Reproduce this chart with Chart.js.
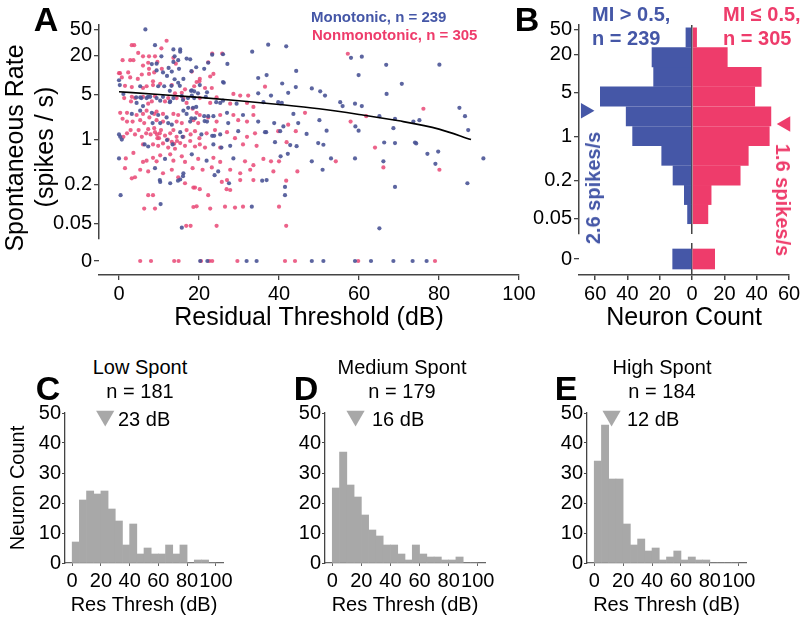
<!DOCTYPE html>
<html>
<head>
<meta charset="utf-8">
<script src="https://cdn.jsdelivr.net/npm/chart.js@4.4.1/dist/chart.umd.min.js"></script>
<style>
  body{margin:0;background:#fff;}
  #fig{position:relative;width:800px;height:618px;overflow:hidden;font-family:"Liberation Sans",Arial,Helvetica,sans-serif;}
  #fig canvas{position:absolute;}
  .t{position:absolute;white-space:nowrap;line-height:1;}
</style>
</head>
<body>
<div id="fig"></div>
<script>
/* ===== data ===== */
// panel A: [residual threshold (dB), spontaneous rate (spikes/s)], rate 0 = no spont activity
const MONO_PTS = [
  [37.3,29.6],[41.8,27.9],[58,18.5],[60.7,19.3],[66.8,14.4],[80.1,14.5],[44.3,11.6],[70.7,7.3],[59.9,10],[40.8,7.4],
  [44.2,6.5],[48.2,6.2],[50.3,5.6],[51.5,4.8],[42.3,5.3],[38,4.8],[66.9,5.1],[55.3,3.8],[55.9,3.3],[59,3.6],
  [60.7,3.3],[39.8,3.8],[40.7,3.7],[85.1,3.1],[86.5,2.3],[87.3,1.4],[43.6,2.5],[50.1,2.0],[69,2.1],[73.6,1.9],
  [75.1,2.0],[38.8,1.8],[41.1,1.6],[44.8,1.8],[36.8,1.3],[40.3,1.35],[46.9,1.22],[51.9,1.37],[59.1,1.6],[59.9,1.37],
  [68.6,1.5],[39,0.91],[42.8,0.82],[44.4,0.79],[49.8,0.88],[51.1,0.83],[66.3,0.9],[69,0.88],[74,0.9],[74.3,0.87],
  [77.1,0.6],[79.8,0.65],[42.2,0.6],[40.4,0.55],[48.2,0.46],[53,0.51],[59,0.51],[66.1,0.46],[79.1,0.42],[91.1,0.51],
  [50.9,0.34],[35.8,0.23],[41.5,0.184],[41.5,0.137],[69,0.184],[87.1,0.21],[65.1,0.042],[65.1,2.3],
  [6.6,51],[9,29],[13.6,25],[15.3,25],[15.3,23],[33.3,23],[8.2,14.8],[9.4,15],[13.6,16],[14.8,17],
  [16.9,18],[17.8,17.5],[22.3,15.5],[9.4,11.8],[11,11],[12,9.7],[13.2,11.3],[15,12.5],[16.1,8.7],[21.3,12.5],
  [26,7.8],[34.8,9],[36.9,10],[0,8.3],[5.3,6.7],[9.8,6.7],[11.3,6.7],[18.2,5.8],[20.2,7],[34.8,5.2],
  [1.1,5.1],[4.4,3.7],[5.3,4.5],[6,3.3],[6.9,4.4],[7.8,4.6],[9.4,4.4],[10.3,4],[11,4.6],[12.8,3.9],
  [13.6,4.4],[15.7,4.7],[18.2,4.8],[18.8,4.4],[21.7,4.6],[25.3,3.7],[29.4,3.6],[36.1,3.8],[3.2,2.5],[5.3,2.8],
  [8.2,2.6],[9.8,2.4],[11.9,2.2],[16.1,2.8],[16.9,2.5],[21.3,2.3],[23.6,2.3],[27,2.6],[31,2.4],[34.8,1.9],
  [8.4,1.8],[10.3,1.8],[12.3,1.8],[13.2,1.7],[17.8,1.9],[22,1.9],[27.3,1.8],[0,1.2],[0.3,1.1],[0.7,1.0],
  [12,0.98],[15.3,1.3],[20.6,1.2],[25.3,1.2],[29.8,1.35],[36.5,1.3],[7.3,0.78],[13.4,0.84],[23.6,0.84],[27.8,0.8],
  [0,0.51],[11.5,0.5],[18.2,0.59],[21.9,0.47],[28.6,0.51],[9,0.36],[16.1,0.3],[24.8,0.32],[36.9,0.235],[0.4,0.137],
  [10.4,0.1],[10.3,0.22],[12.8,0.21],[15.3,0.24],[27.5,0.21],[33.2,0.091],[15.7,0.043],
  [10.6,19.5],[13.9,19.5],[23.3,20.7],[26,21],[27.1,14.9],[19.3,13.2],[18.1,11.5],[12.4,12.9],[13.9,8.6],[14.8,7.6],
  [15.2,6.8],[13.1,6.8],[12.7,5.7],[0.2,7],[18,5.7],[18.8,5.6],[22,5.4],[26.2,7.6],[4.3,4.5],[5.6,4.4],
  [7.25,4.6],[12.7,3.8],[16,4.1],[17.25,4.4],[19.75,5.2],[24.3,3.8],[26,4.0],[17.3,3.1],[18.5,3.1],[19.3,3.2],
  [21.4,1.93],[22.3,2.3],[18.1,2.14],[19,2.14],[23.3,1.14],[23.8,1.14],[25.6,0.75],[15.9,1.1],[6.4,0.84],[10.2,0.235],
  [14.75,0.23],[16,0.27],[23.9,0.28],
  [48.2,0],[51.1,0],[59,0],[63,0],[68.6,0],[73.4,0],[76.9,0],[20.3,0],[31.9,0],[34.4,0],[22.1,0]
];
const NONMONO_PTS = [
  [57.2,21.4],[36.5,6.6],[76.1,3.0],[46.5,2.6],[61.8,2.3],[57.9,1.9],[42.3,1.7],[39.8,1.35],[44.2,1.35],[41.9,0.91],
  [64,0.75],[38,0.46],[40,0.46],[54.2,0.46],[66.1,0.37],[80.1,0.34],[44.6,0.32],[38.6,0.32],[41.8,0.23],[40,0.091],
  [41.8,0.046],
  [3.2,29],[3.8,29],[11.9,34],[10.6,26],[23.3,21.5],[25.8,21.5],[0.9,17],[2.8,17],[3.6,17],[4.8,22],
  [6,19.5],[7.5,19.5],[9,19.5],[9.6,16],[6,14],[7.3,15.5],[13.6,18.5],[22.3,15.8],[2.3,11],[0.25,10.7],
  [0,10.7],[0.7,9.2],[2.8,9.2],[4.7,8.7],[5.7,10.2],[7.5,12.5],[7.5,10.4],[8.8,11],[10.7,12.5],[14.2,15],
  [18.2,11.3],[20.2,8.7],[22.8,9.5],[23.6,10.4],[1.5,6.8],[3.2,6.5],[6,6.3],[6.9,6.7],[8.5,7],[8.5,8],
  [10.3,7.3],[13.2,7],[14,5.2],[15.7,5.3],[16.5,6],[18.8,6.7],[19.4,7.8],[20.1,8],[21.5,6.3],[23.2,6.3],
  [24.4,4.5],[28.6,5.1],[30.3,4.8],[32.3,4.8],[1.3,4.4],[3.2,4.6],[3,3.9],[4,4.4],[6,4.6],[7.3,3.6],
  [8.2,3.9],[9,4.7],[11.5,3.9],[12.3,4.4],[14.4,4.4],[16.1,4.3],[16.9,3.7],[20.2,4.4],[22.8,3.7],[27.8,3.6],
  [32,3.7],[33.6,3.2],[0.3,2.6],[2,2.6],[4.4,2.4],[6,2.5],[6.9,2.8],[8.8,2.5],[9.4,2.7],[11,2.5],
  [13.6,2.5],[14.8,2.4],[18.4,3],[19.4,2.6],[20.2,2.4],[22.3,2.2],[25.3,2.4],[28.6,2.4],[33.6,2.4],[0.9,2.1],
  [2,1.9],[3.4,1.9],[5.3,2],[6.3,1.8],[7.6,2.2],[9.4,2],[11,1.9],[14.4,1.9],[15.7,1.8],[18.6,2],
  [19.8,1.8],[24.4,1.9],[29.8,2],[32,1.9],[1.1,1.1],[2,1.25],[2.9,1.4],[4,1.2],[4.9,1.4],[5.7,1.1],
  [6.8,1.25],[7.3,1.45],[7.9,1.2],[9,1.3],[9.6,1.05],[10.5,1.4],[11.5,1.15],[12.8,1.25],[13.6,1.4],[14.4,1.1],
  [16.1,1.1],[16.9,1.4],[17.9,1.2],[19,1.35],[20.1,1.05],[21.9,1.25],[24,1.4],[27,1.3],[29,1.05],[32,1.1],
  [34,1.25],[6,0.84],[8.5,0.84],[9.8,0.8],[11,0.87],[12.3,0.75],[14,0.72],[15.3,0.88],[16.5,0.8],[17.8,0.95],
  [19,0.78],[20.2,0.84],[21.5,0.75],[25.3,0.75],[31,0.84],[34.4,0.8],[1.7,0.51],[3.6,0.62],[6,0.45],[6.9,0.47],
  [8.5,0.52],[9.4,0.46],[10.3,0.57],[12.8,0.59],[13.6,0.47],[15.7,0.55],[16.5,0.45],[19.8,0.5],[23.6,0.52],[25.3,0.45],
  [31.5,0.46],[33.6,0.4],[36.1,0.5],[1.5,0.36],[3.2,0.25],[4,0.26],[5.3,0.34],[7.3,0.32],[11,0.3],[13.2,0.34],
  [14.8,0.26],[18.4,0.36],[20.9,0.34],[23.2,0.37],[27.8,0.34],[30.3,0.3],[32.8,0.34],[7.3,0.137],[8.5,0.137],[6.3,0.085],
  [9,0.085],[18.6,0.18],[19,0.18],[16.5,0.21],[20.2,0.17],[22.3,0.137],[25.7,0.22],[27,0.235],[26.9,0.17],[27.8,0.165],
  [30.3,0.235],[33.6,0.235],[18.6,0.09],[19.4,0.092],[22.8,0.085],[26.5,0.091],[29,0.088],[31,0.091],[16.8,0.046],[17.9,0.046],
  [24.4,0.046],[9.5,1.2],[10,1.05],[10.2,1.25],[13.2,0.92],[13.8,0.86],[14.5,0.95],[8.8,1.5],[12.2,1.0],
  [5.3,0],[8,0],[13.8,0],[14.9,0],[20.5,0],[22.6,0],[23.3,0],[29.6,0],[41.5,0],[44,0],[59.8,0],[79,0]
];
// regression line, read at a few thresholds
const FIT_DB   = [0, 10, 20, 30, 40, 50, 60, 70, 80, 88];
const FIT_RATE = [5.5, 5.0, 4.5, 4.0, 3.5, 3.0, 2.45, 1.95, 1.45, 1.0];

// panel B: spont-rate bins (edges, low -> high) and neuron counts
const SR_BIN_EDGES  = [0.042, 0.084, 0.17, 0.35, 0.72, 1.47, 3.04, 6.28, 12.8, 26.4, 54.3];
const MONO_HIST     = [3, 5, 12, 19, 37, 41, 57, 24, 25, 4];
const NONMONO_HIST  = [10, 12, 30, 35, 48, 49, 39, 43, 22, 3];
const MONO_ZERO     = 12;
const NONMONO_ZERO  = 14;
const MONO_MEDIAN   = 2.6;
const NONMONO_MEDIAN = 1.6;

// panels C-E: residual threshold histograms, 5 dB bins
const RT_BIN_EDGES = [0,5,10,15,20,25,30,35,40,45,50,55,60,65,70,75,80,85,90,95,100];
const LOW_HIST  = [7,21,24,23,24,18,14,6,13,3,5,3,3,6,3,6,0,1,1,0];
const MED_HIST  = [25,37,26,22,16,11,9,6,6,3,1,6,3,2,2,1,1,2,0,0];
const HIGH_HIST = [34,46,28,28,13,6,8,4,5,1,2,4,1,2,1,1,0,0,0,0];
const RT_MEDIANS = [23, 16, 12];

// tick labels
const SR_TICKS    = [50, 20, 5, 1, 0.2, 0.05];
const DB_TICKS    = [0, 20, 40, 60, 80, 100];
const COUNT_TICKS = [-60, -40, -20, 0, 20, 40, 60];
const HIST_TICKS  = [0, 10, 20, 30, 40, 50];

/* ===== styles ===== */
const BLUE = '#4557a7', PINK = '#ee3c6b', GRAY = '#a8a8a8', AX = '#444';
const BLUE_DOT = 'rgba(74,84,150,0.9)', PINK_DOT = 'rgba(233,72,118,0.85)';
const SR_MIN = 0.0287, SR_MAX = 59.7;     // log axis extent above the break
const MONO_MARK_X = -66, NONMONO_MARK_X = 58, MEDIAN_MARK_Y = 49;

Chart.defaults.font.family = '"Liberation Sans", Arial, Helvetica, sans-serif';
Chart.defaults.color = '#000';
Chart.defaults.animation = false;
Chart.defaults.responsive = false;
Chart.defaults.plugins.legend.display = false;
Chart.defaults.plugins.tooltip.enabled = false;

const fig = document.getElementById('fig');
function mkCanvas(left, top, w, h){
  const c = document.createElement('canvas');
  c.width = w; c.height = h;
  c.style.left = left+'px'; c.style.top = top+'px';
  c.style.width = w+'px'; c.style.height = h+'px';
  fig.appendChild(c); return c;
}
function text(txt, cx, cy, size, o={}){
  const d = document.createElement('div'); d.className = 't'; d.textContent = txt;
  d.style.fontSize = size+'px'; d.style.color = o.color || '#000';
  if(o.bold) d.style.fontWeight = 'bold';
  d.style.left = cx+'px'; d.style.top = cy+'px';
  let tr = o.left ? 'translate(0,-50%)' : 'translate(-50%,-50%)';
  if(o.rot) tr += ' rotate('+o.rot+'deg)';
  d.style.transform = tr;
  fig.appendChild(d);
}
// fixed axis box, no label overflow padding -> chart areas land where the figure has them
const noPad = s => { s.paddingLeft = s.paddingRight = s.paddingTop = s.paddingBottom = 0; };
const fixW = n => s => { s.width = n; noPad(s); };
const fixH = n => s => { s.height = n; noPad(s); };
const setTicks = arr => s => { s.ticks = arr.map(v => ({value: v})); };
const sum = a => a.reduce((p, q) => p + q, 0);
const xy = p => ({x: p[0], y: p[1]});

/* ===== A: scatter, log axis + zero strip ===== */
new Chart(mkCanvas(0, 0, 530, 243), {
  type: 'scatter',
  data: {datasets: [
    {type:'line', data: FIT_DB.map((x,i)=>({x, y: FIT_RATE[i]})), borderColor:'#000', borderWidth:1.6,
     pointRadius:0, fill:false, cubicInterpolationMode:'monotone'},
    {data: MONO_PTS.filter(p=>p[1]>0).map(xy), backgroundColor: BLUE_DOT, pointRadius:2.1, borderWidth:0},
    {data: NONMONO_PTS.filter(p=>p[1]>0).map(xy), backgroundColor: PINK_DOT, pointRadius:2.1, borderWidth:0}
  ]},
  options: {
    layout: {padding: {top:25, right:11, left:0, bottom:0}},
    scales: {
      x: {type:'linear', display:false, min:-5, max:100, offset:false},
      y: {type:'logarithmic', min:SR_MIN, max:SR_MAX, offset:false, afterFit: fixW(99), afterBuildTicks: setTicks(SR_TICKS),
          ticks: {callback: v => String(v), font:{size:20}, padding:2, autoSkip:false},
          grid: {drawOnChartArea:false, color:AX, tickLength:5, lineWidth:1.3},
          border: {color:AX, width:1.5}}
    }
  }
});
new Chart(mkCanvas(0, 243, 545, 90), {
  type: 'scatter',
  data: {datasets: [
    {data: MONO_PTS.filter(p=>p[1]===0).map(xy), backgroundColor: BLUE_DOT, pointRadius:2.1, borderWidth:0},
    {data: NONMONO_PTS.filter(p=>p[1]===0).map(xy), backgroundColor: PINK_DOT, pointRadius:2.1, borderWidth:0}
  ]},
  options: {
    layout: {padding: {top:0, right:26, left:0, bottom:0}},
    scales: {
      x: {type:'linear', min:-5, max:100, offset:false, afterFit: fixH(58), afterBuildTicks: setTicks(DB_TICKS),
          ticks: {font:{size:20}, padding:2, maxRotation:0, autoSkip:false},
          grid: {drawOnChartArea:false, color:AX, tickLength:5, lineWidth:1.3},
          border: {color:AX, width:1.5},
          title: {display:true, text:'Residual Threshold (dB)', font:{size:25}, padding:0}},
      y: {type:'linear', min:-1, max:1, offset:false, afterFit: fixW(99), afterBuildTicks: setTicks([0]),
          ticks: {font:{size:20}, padding:2},
          grid: {drawOnChartArea:false, color:AX, tickLength:5, lineWidth:1.3},
          border: {display:false}}
    }
  }
});

/* ===== B: back-to-back histogram ===== */
const SR_CENTERS = SR_BIN_EDGES.slice(0, -1).map((e, i) => Math.sqrt(e * SR_BIN_EDGES[i+1]));
const centerLine = {color: c => (c.tick && c.tick.value === 0) ? AX : 'rgba(0,0,0,0)', lineWidth:1.5, offset:false};
new Chart(mkCanvas(530, 0, 270, 243), {
  type: 'bar',
  data: {datasets: [
    {type:'scatter', data:[{x:MONO_MARK_X, y:MONO_MEDIAN}], pointStyle:'triangle', rotation:90,
     pointRadius:9, backgroundColor:BLUE, borderWidth:0, clip:false},
    {type:'scatter', data:[{x:NONMONO_MARK_X, y:NONMONO_MEDIAN}], pointStyle:'triangle', rotation:-90,
     pointRadius:9, backgroundColor:PINK, borderWidth:0, clip:false},
    {indexAxis:'y', data: MONO_HIST.map((n,i)=>({x:-n, y:SR_CENTERS[i]})), backgroundColor:BLUE,
     grouped:false, barPercentage:1.04, categoryPercentage:1, borderWidth:0},
    {indexAxis:'y', data: NONMONO_HIST.map((n,i)=>({x:n, y:SR_CENTERS[i]})), backgroundColor:PINK,
     grouped:false, barPercentage:1.04, categoryPercentage:1, borderWidth:0}
  ]},
  options: {
    layout: {padding: {top:25, right:11, left:0, bottom:0}},
    scales: {
      x: {type:'linear', min:-70, max:60, offset:false, afterFit: fixH(0), afterBuildTicks: setTicks(COUNT_TICKS),
          ticks:{display:false}, grid: Object.assign({drawTicks:false}, centerLine), border:{display:false}},
      y: {type:'logarithmic', min:SR_MIN, max:SR_MAX, offset:false, afterFit: fixW(49), afterBuildTicks: setTicks(SR_TICKS),
          ticks: {callback: v => String(v), font:{size:20}, padding:2, autoSkip:false},
          grid: {drawOnChartArea:false, color:AX, tickLength:5, lineWidth:1.3, offset:false},
          border: {color:AX, width:1.5}}
    }
  }
});
new Chart(mkCanvas(530, 243, 270, 90), {
  type: 'bar',
  data: {datasets: [
    {indexAxis:'y', data:[{x:-MONO_ZERO, y:0}], backgroundColor:BLUE, grouped:false, barThickness:20, borderWidth:0},
    {indexAxis:'y', data:[{x:NONMONO_ZERO, y:0}], backgroundColor:PINK, grouped:false, barThickness:20, borderWidth:0}
  ]},
  options: {
    layout: {padding: {top:0, right:11, left:0, bottom:0}},
    scales: {
      x: {type:'linear', min:-70, max:60, offset:false, afterFit: fixH(58), afterBuildTicks: setTicks(COUNT_TICKS),
          ticks: {callback: v => String(Math.abs(v)), font:{size:20}, padding:2, maxRotation:0, autoSkip:false},
          grid: Object.assign({tickColor:AX, tickLength:5}, centerLine),
          border: {color:AX, width:1.5},
          title: {display:true, text:'Neuron Count', font:{size:25}, padding:0}},
      y: {type:'linear', min:-1, max:1, offset:false, afterFit: fixW(49), afterBuildTicks: setTicks([0]),
          ticks: {font:{size:20}, padding:2},
          grid: {drawOnChartArea:false, color:AX, tickLength:5, lineWidth:1.3, offset:false},
          border: {display:false}}
    }
  }
});

/* ===== C-E: residual threshold histograms ===== */
const RT_CENTERS = RT_BIN_EDGES.slice(0, -1).map((e, i) => (e + RT_BIN_EDGES[i+1]) / 2);
function histPanel(left, w, rightPad, hist, median, yTitle){
  new Chart(mkCanvas(left, 400, w, 218), {
    type: 'bar',
    data: {datasets: [
      {type:'scatter', data:[{x:median, y:MEDIAN_MARK_Y}], pointStyle:'triangle', rotation:180,
       pointRadius:10.5, backgroundColor:GRAY, borderWidth:0, clip:false},
      {data: hist.map((n,i)=>({x:RT_CENTERS[i], y:n})), backgroundColor:GRAY,
       barPercentage:1, categoryPercentage:1, borderWidth:0}
    ]},
    options: {
      layout: {padding: {top:13, right:rightPad, left:0, bottom:0}},
      scales: {
        x: {type:'linear', min:-5, max:105, offset:false, afterFit: fixH(55), afterBuildTicks: setTicks(DB_TICKS),
            ticks: {font:{size:20}, padding:3, maxRotation:0, autoSkip:false},
            grid: {drawOnChartArea:false, color:'#666', tickLength:3, offset:false},
            border: {color:'#666', width:1.3},
            title: {display:true, text:'Res Thresh (dB)', font:{size:20}, padding:{top:0, bottom:1}}},
        y: {type:'linear', min:0, max:50, offset:false, afterFit: fixW(65), afterBuildTicks: setTicks(HIST_TICKS),
            ticks: {font:{size:20}, padding:1},
            grid: {drawOnChartArea:false, color:AX, tickLength:3},
            border: {color:AX, width:1.3},
            title: {display:!!yTitle, text:yTitle || '', font:{size:20}, padding:{top:6, bottom:0}}}
      }
    }
  });
}
histPanel(0,   260, 37, LOW_HIST,  RT_MEDIANS[0], 'Neuron Count');
histPanel(260, 260, 35, MED_HIST,  RT_MEDIANS[1]);
histPanel(522, 278, 54, HIGH_HIST, RT_MEDIANS[2]);

/* ===== text ===== */
text('A', 46, 19, 34, {bold:true});
text('B', 527, 19, 34, {bold:true});
text('C', 48, 388, 34, {bold:true});
text('D', 306, 388, 34, {bold:true});
text('E', 566, 388, 34, {bold:true});

text('Spontaneous Rate', 14, 148, 25, {rot:-90});
text('(spikes / s)', 44, 147, 25, {rot:-90});
text('Monotonic, n = ' + (sum(MONO_HIST) + MONO_ZERO), 311, 16, 15, {bold:true, left:true, color:BLUE});
text('Nonmonotonic, n = ' + (sum(NONMONO_HIST) + NONMONO_ZERO), 312, 34, 15, {bold:true, left:true, color:PINK});

text('MI > 0.5,', 592, 14, 20, {bold:true, left:true, color:BLUE});
text('n = ' + (sum(MONO_HIST) + MONO_ZERO), 592, 38, 20, {bold:true, left:true, color:BLUE});
text('MI \u2264 0.5,', 723, 14, 20, {bold:true, left:true, color:PINK});
text('n = ' + (sum(NONMONO_HIST) + NONMONO_ZERO), 723, 38, 20, {bold:true, left:true, color:PINK});
text(MONO_MEDIAN + ' spikes/s', 593, 188, 20, {bold:true, rot:-90, color:BLUE});
text(NONMONO_MEDIAN + ' spikes/s', 783, 200, 20, {bold:true, rot:90, color:PINK});

[['Low Spont', 140, LOW_HIST, 118], ['Medium Spont', 402, MED_HIST, 372], ['High Spont', 662, HIGH_HIST, 627]]
  .forEach((p, i) => {
    text(p[0], p[1], 367, 20);
    text('n = ' + sum(p[2]), p[1], 391, 20);
    text(RT_MEDIANS[i] + ' dB', p[3], 419, 20, {left:true});
  });
</script>
</body>
</html>
